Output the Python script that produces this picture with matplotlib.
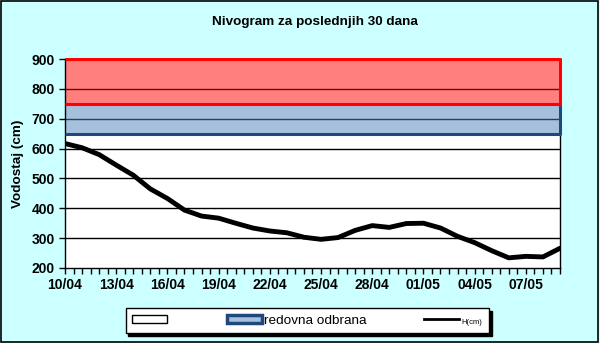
import numpy as np
import matplotlib
matplotlib.use('Agg')
import matplotlib.pyplot as plt
from matplotlib.patches import Patch, Rectangle
from matplotlib.lines import Line2D

plt.rcParams['font.family'] = ['Liberation Sans', 'DejaVu Sans']

# daily water level, 10/04 - 09/05
dates = ['10/04', '11/04', '12/04', '13/04', '14/04', '15/04', '16/04', '17/04',
         '18/04', '19/04', '20/04', '21/04', '22/04', '23/04', '24/04', '25/04',
         '26/04', '27/04', '28/04', '29/04', '30/04', '01/05', '02/05', '03/05',
         '04/05', '05/05', '06/05', '07/05', '08/05', '09/05']
level = [617, 603, 580, 545, 511, 465, 433, 394, 374, 367, 350, 334, 324, 318,
         303, 296, 302, 326, 342, 336, 349, 350, 334, 306, 285, 258, 234, 239,
         237, 266]

# defence levels
redovna = (650, 750)
vanredna = (750, 900)

fig = plt.figure(figsize=(6, 3.43), dpi=100, facecolor='#CCFFFF')
fig.patches.append(Rectangle((0.002, 0.003), 0.995, 0.994, transform=fig.transFigure,
                             fill=False, edgecolor='black', lw=1.2))
ax = fig.add_axes([0.1083, 0.2187, 0.825, 0.609])
ax.set_facecolor('white')

x = np.arange(len(level))
xmax = len(level) - 1

ax.set_ylim(200, 900)
ax.set_xlim(0, xmax)
ax.set_yticks(range(200, 901, 100))
for v in range(300, 900, 100):
    ax.axhline(v, color='black', lw=1, zorder=1)

# bands (half transparent so the grid shows through)
ax.fill_between([0, xmax], redovna[0], redovna[1], color='#4F81BD', alpha=0.5, lw=0, zorder=2)
ax.fill_between([0, xmax], vanredna[0], vanredna[1], color='#FF0000', alpha=0.5, lw=0, zorder=2)
ax.plot([0, xmax, xmax], [redovna[0], redovna[0], redovna[1]], color='#1F497D', lw=2.2,
        zorder=3, clip_on=False, solid_capstyle='butt')
ax.plot([0, xmax, xmax, 0], [vanredna[0], vanredna[0], vanredna[1], vanredna[1]],
        color='#FF0000', lw=2.2, zorder=3, clip_on=False, solid_capstyle='butt')

ax.plot(x, level, color='black', lw=3.5, solid_joinstyle='round', solid_capstyle='round', zorder=4)

for s in ax.spines.values():
    s.set_color('black')
    s.set_linewidth(1)
    s.set_zorder(2.5)

ax.set_xticks(x[::3])
ax.set_xticklabels(dates[::3])
ax.set_xticks(np.arange(0, xmax + 0.01, 0.5), minor=True)
ax.tick_params(axis='x', which='both', direction='out', length=4, width=1, colors='black')
ax.tick_params(axis='y', direction='out', length=4, width=1)
for lab in ax.get_xticklabels() + ax.get_yticklabels():
    lab.set_fontweight('bold')
    lab.set_fontsize(10)

ax.set_ylabel('Vodostaj (cm)', fontsize=9.7, fontweight='bold', labelpad=5)
fig.text(0.525, 0.935, 'Nivogram za poslednjih 30 dana', ha='center', va='center',
         fontsize=9.7, fontweight='bold')

handles = [Patch(facecolor='white', edgecolor='black', lw=1),
           Patch(facecolor='#A7C0DE', edgecolor='#1F497D', lw=2.5),
           Line2D([], [], color='black', lw=2)]
leg = fig.legend(handles, ['', 'redovna odbrana', 'H(cm)'], loc='center',
                 bbox_to_anchor=(0.512, 0.065), ncol=3, frameon=True, fancybox=False,
                 shadow={'color': 'black', 'alpha': 1}, edgecolor='black',
                 prop={'size': 9.7}, handlelength=2.6, handleheight=0.6,
                 columnspacing=4.2, handletextpad=0.2, borderpad=0.5)
leg.get_frame().set_linewidth(1)
leg.get_texts()[2].set_fontsize(5.5)

fig.savefig('out.png', dpi=100, facecolor=fig.get_facecolor())
